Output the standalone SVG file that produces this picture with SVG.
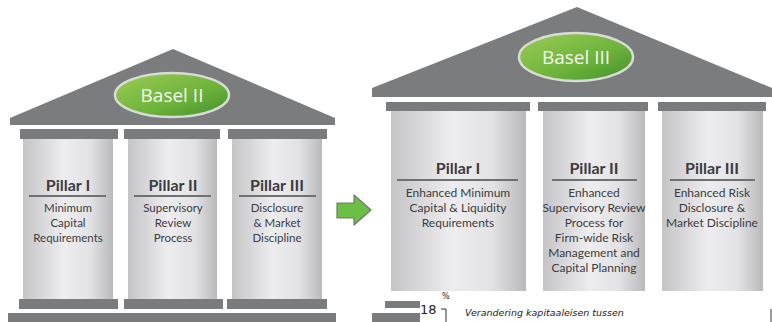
<svg xmlns="http://www.w3.org/2000/svg" width="772" height="322" viewBox="0 0 772 322">
<defs>
<linearGradient id="col" x1="0" y1="0" x2="1" y2="0">
<stop offset="0" stop-color="#c4c4c6"/>
<stop offset="0.45" stop-color="#ededef"/>
<stop offset="0.75" stop-color="#e2e2e4"/>
<stop offset="1" stop-color="#b9b9bb"/>
</linearGradient>
<linearGradient id="grn" x1="0" y1="0" x2="1" y2="1">
<stop offset="0" stop-color="#9ccc55"/>
<stop offset="0.6" stop-color="#6cb23a"/>
<stop offset="1" stop-color="#3f8f2a"/>
</linearGradient>
<style>
.roof{fill:#7b7c7e}
.plate{fill:#7a7b7d}
.col{fill:url(#col)}
.oval{fill:url(#grn);stroke:#d9dcd6;stroke-width:2.5}
.bt{font-family:"Open Sans","Noto Sans",sans-serif;font-size:19px;fill:#f4f7ee;text-anchor:middle}
.ttl{font-family:Lato,"Open Sans",sans-serif;font-size:16px;font-weight:bold;fill:#3c3c3e;text-anchor:middle}
.body{font-family:Lato,"Open Sans",sans-serif;font-size:11.5px;fill:#3c3c3e;text-anchor:middle}
.body2{font-family:Lato,"Open Sans",sans-serif;font-size:12px;fill:#3c3c3e;text-anchor:middle}
.rule{stroke:#6f7072;stroke-width:2}
.chart{font-family:"DejaVu Sans",sans-serif;fill:#222}
</style>
</defs>
<rect width="772" height="322" fill="#ffffff"/>

<g id="basel2">
<polygon class="roof" points="10,118 173,49 335,118 335,125 10,125"/>
<ellipse class="oval" cx="172" cy="95" rx="57" ry="22"/>
<text class="bt" x="172" y="102">Basel II</text>
<rect class="plate" x="20" y="129" width="98" height="10"/>
<rect class="plate" x="124" y="129" width="96" height="10"/>
<rect class="plate" x="228" y="129" width="99" height="10"/>
<rect class="plate" x="19" y="299" width="99" height="10"/>
<rect class="plate" x="124" y="299" width="99" height="10"/>
<rect class="plate" x="227" y="299" width="100" height="10"/>
<rect class="plate" x="8" y="313" width="328" height="9"/>
</g>

<g id="b2-pillar1">
<rect class="col" x="23" y="139" width="90" height="160"/>
<text class="ttl" x="68" y="191">Pillar I</text>
<line class="rule" x1="29" y1="196" x2="106" y2="196"/>
<text class="body" x="68" y="212">Minimum</text>
<text class="body" x="68" y="227">Capital</text>
<text class="body" x="68" y="242">Requirements</text>
</g>
<g id="b2-pillar2">
<rect class="col" x="128" y="139" width="89" height="160"/>
<text class="ttl" x="173" y="191">Pillar II</text>
<line class="rule" x1="134" y1="196" x2="211" y2="196"/>
<text class="body" x="173" y="212">Supervisory</text>
<text class="body" x="173" y="227">Review</text>
<text class="body" x="173" y="242">Process</text>
</g>
<g id="b2-pillar3">
<rect class="col" x="232" y="139" width="90" height="160"/>
<text class="ttl" x="277" y="191">Pillar III</text>
<line class="rule" x1="239" y1="196" x2="316" y2="196"/>
<text class="body" x="277" y="212">Disclosure</text>
<text class="body" x="277" y="227">&amp; Market</text>
<text class="body" x="277" y="242">Discipline</text>
</g>

<g id="connectors">
<polygon points="337,203 354,203 354,195 371,210 354,225 354,218 337,218" fill="#6cbf45" stroke="#6e7a66" stroke-width="1.2" stroke-linejoin="round"/>
</g>

<g id="basel3">
<polygon class="roof" points="372,88 577,7 772,88 772,97 372,97"/>
<ellipse class="oval" cx="576" cy="57" rx="57" ry="24"/>
<text class="bt" x="576" y="64">Basel III</text>
<rect class="plate" x="386" y="102" width="144" height="9"/>
<rect class="plate" x="538" y="102" width="110" height="9"/>
<rect class="plate" x="658" y="102" width="108" height="9"/>
<rect class="plate" x="385" y="301" width="40" height="7"/>
<rect class="plate" x="372" y="313" width="50" height="9"/>
</g>

<g id="b3-pillar1">
<rect class="col" x="391" y="111" width="135" height="180"/>
<text class="ttl" x="458" y="174">Pillar I</text>
<line class="rule" x1="397" y1="180" x2="518" y2="180"/>
<text class="body2" x="458" y="197">Enhanced Minimum</text>
<text class="body2" x="458" y="212">Capital &amp; Liquidity</text>
<text class="body2" x="458" y="227">Requirements</text>
</g>
<g id="b3-pillar2">
<rect class="col" x="543" y="111" width="102" height="180"/>
<text class="ttl" x="594" y="174">Pillar II</text>
<line class="rule" x1="552" y1="180" x2="637" y2="180"/>
<text class="body2" x="594" y="197">Enhanced</text>
<text class="body2" x="594" y="212">Supervisory Review</text>
<text class="body2" x="594" y="227">Process for</text>
<text class="body2" x="594" y="242">Firm-wide Risk</text>
<text class="body2" x="594" y="257">Management and</text>
<text class="body2" x="594" y="272">Capital Planning</text>
</g>
<g id="b3-pillar3">
<rect class="col" x="662" y="111" width="101" height="180"/>
<text class="ttl" x="712" y="174">Pillar III</text>
<line class="rule" x1="670" y1="180" x2="755" y2="180"/>
<text class="body2" x="712" y="197">Enhanced Risk</text>
<text class="body2" x="712" y="212">Disclosure &amp;</text>
<text class="body2" x="712" y="227">Market Discipline</text>
</g>

<g id="chart-overlay">
<rect x="420" y="292" width="352" height="30" fill="#ffffff"/>
<text class="chart" x="442" y="299" font-size="8" fill="#888">%</text>
<text class="chart" x="420" y="314" font-size="13">18</text>
<polyline points="441,309 446,309 446,322" fill="none" stroke="#333" stroke-width="1"/>
<text class="chart" x="465" y="316" font-size="9.5" font-style="italic">Verandering kapitaaleisen tussen</text>
<rect x="770" y="309" width="2" height="13" fill="#999"/>
</g>
</svg>
